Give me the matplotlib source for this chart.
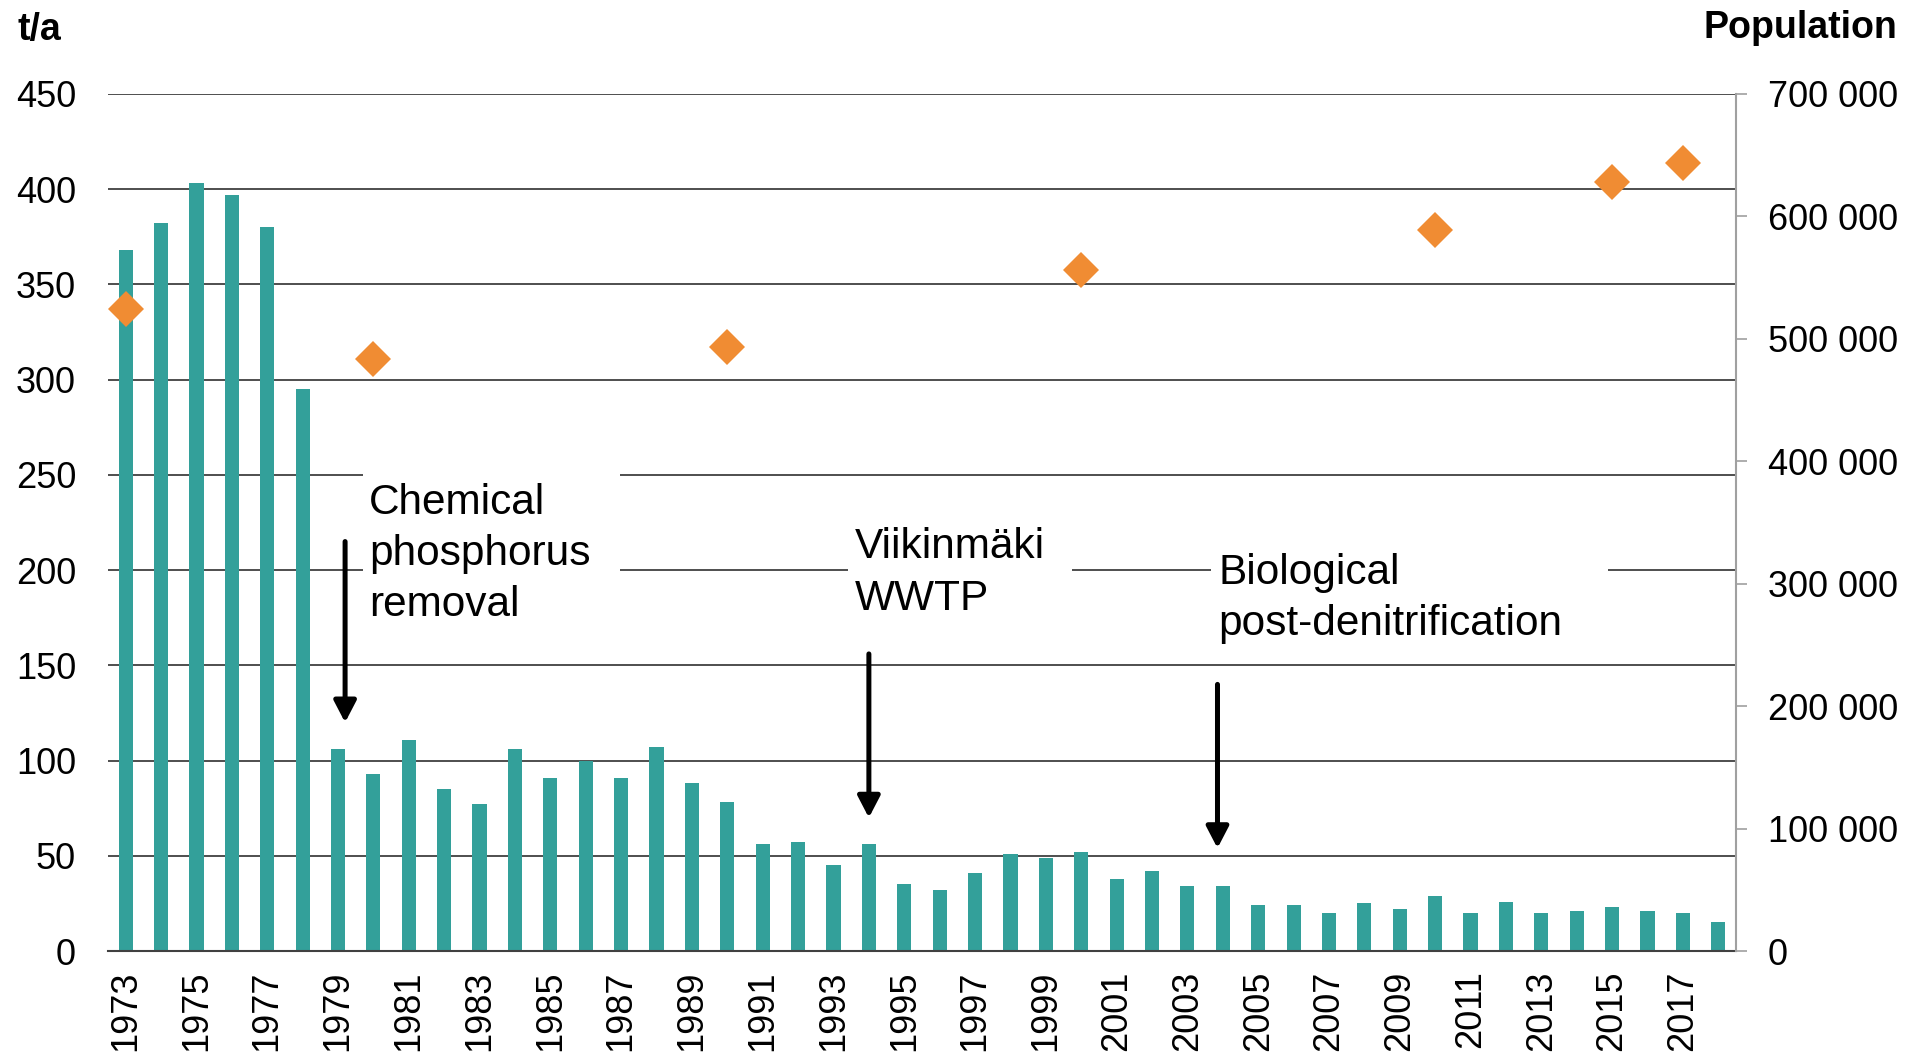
import numpy as np
import matplotlib
matplotlib.use('Agg')
import matplotlib.pyplot as plt
from matplotlib.patches import Rectangle
from matplotlib.ticker import FuncFormatter

# Data
years = list(range(1973, 2019))
load = [368, 382, 403, 397, 380, 295, 106, 93, 111, 85,
        77, 106, 91, 100, 91, 107, 88, 78, 56, 57,
        45, 56, 35, 32, 41, 51, 49, 52, 38, 42,
        34, 34, 24, 24, 20, 25, 22, 29, 20, 26,
        20, 21, 23, 21, 20, 15]
pop_years = [1973, 1980, 1990, 2000, 2010, 2015, 2017]
population = [524500, 483500, 493000, 556000, 589000, 628500, 644000]

# Annotations: text, year of arrow, arrow start, arrow tip (t/a)
notes = ['Chemical\nphosphorus\nremoval', 'Viikinmäki\nWWTP', 'Biological\npost-denitrification']
arrow_x = [1979.2, 1994.0, 2003.85]
arrow_top = [215, 156, 140]
arrow_tip = [120, 70, 54]

teal = '#33a09a'
orange = '#f08c33'
grid_col = '#404040'

plt.rcParams['font.family'] = ['Liberation Sans', 'DejaVu Sans']
plt.rcParams['font.size'] = 26

fig = plt.figure(figsize=(19.28, 10.56), dpi=100)
ax = fig.add_axes([0.056, 0.0994, 0.8444, 0.8116])

x = np.arange(len(years))
ax.bar(x, load, width=0.4, color=teal, zorder=2)

ax.set_xlim(-0.5, len(years) - 0.5)
ax.set_ylim(0, 450)
ax.set_yticks(range(0, 451, 50))
for v in range(50, 451, 50):
    ax.axhline(v, color=grid_col, lw=1.3, zorder=1)

ax.set_xticks(x[::2])
ax.set_xticklabels([str(y) for y in years[::2]], rotation=90)
ax.tick_params(axis='x', length=0, pad=14)
ax.tick_params(axis='y', length=0, pad=23)
for s in ['left', 'top', 'right']:
    ax.spines[s].set_visible(False)
ax.spines['bottom'].set_color(grid_col)
ax.spines['bottom'].set_linewidth(1.5)

# Population on second axis
ax2 = ax.twinx()
ax2.set_ylim(0, 700000)
ax2.set_yticks(range(0, 700001, 100000))
ax2.yaxis.set_major_formatter(FuncFormatter(lambda v, p: f'{int(v):,}'.replace(',', ' ')))
pop_x = [years.index(y) for y in pop_years]
ax2.plot(pop_x, population, linestyle='none', marker='D', markersize=18,
         color=orange, markeredgewidth=0, zorder=5)
for s in ['left', 'top', 'bottom']:
    ax2.spines[s].set_visible(False)
ax2.spines['right'].set_color('#a0a0a0')
ax2.spines['right'].set_linewidth(1.5)
ax2.tick_params(axis='y', length=8, width=1.2, color='#a0a0a0', pad=15)

# White boxes behind annotation text (break the gridlines)
def idx(yr):
    return yr - years[0]

boxes = [(6.7, 165, 7.27, 97), (20.41, 170, 6.33, 70), (30.67, 160, 11.22, 80)]
for bx, by, bw, bh in boxes:
    ax.add_patch(Rectangle((bx, by), bw, bh, facecolor='white', edgecolor='none', zorder=3))

text_pos = [(6.875, 208.5), (20.59, 198.5), (30.88, 185.3)]
for t, (tx, ty) in zip(notes, text_pos):
    ax.text(tx, ty, t, fontsize=30.5, ha='left', va='center', linespacing=1.36, zorder=4)

for ax_, top, tip in zip(arrow_x, arrow_top, arrow_tip):
    ax.annotate('', xy=(idx(ax_), tip), xytext=(idx(ax_), top),
                arrowprops=dict(arrowstyle='-|>,head_width=0.26,head_length=0.5',
                                lw=3.6, color='black', shrinkA=0, shrinkB=0),
                zorder=4)

# Axis titles
fig.text(18 / 1928, 1 - 30 / 1056, 't/a', fontsize=27, fontweight='bold', ha='left', va='center')
fig.text(1897 / 1928, 1 - 28 / 1056, 'Population', fontsize=27, fontweight='bold', ha='right', va='center')

fig.savefig('out.png', dpi=100)
